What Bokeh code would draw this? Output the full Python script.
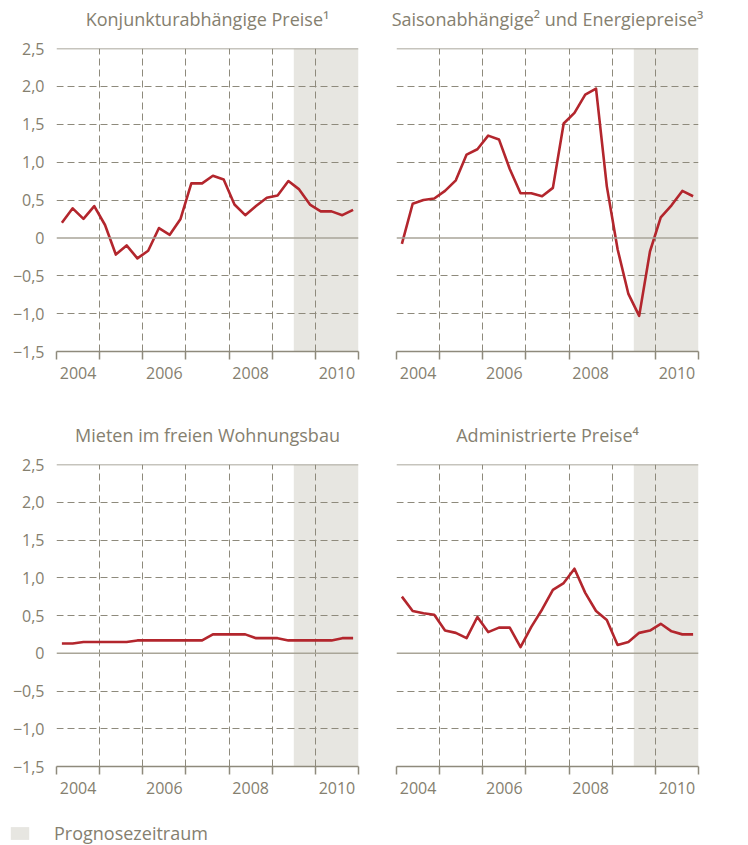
from bokeh.plotting import figure
from bokeh.models import (Range1d, FixedTicker, Span, ColumnDataSource, LabelSet,
                          Legend, LegendItem)
from bokeh.core.properties import value
from bokeh.layouts import column, row
from bokeh.embed import file_html
from bokeh.resources import INLINE

# ---------------- data ----------------
years = [2004, 2005, 2006, 2007, 2008, 2009, 2010]
quarters = [(y, q) for y in years for q in (1, 2, 3, 4)]
x_quarter = [y + (q - 0.5) / 4 for (y, q) in quarters]

year_bounds = [2004, 2005, 2006, 2007, 2008, 2009, 2010, 2011]
grid_years = [2005, 2006, 2007, 2008, 2009, 2010]
label_years = [2004, 2006, 2008, 2010]

y_ticks = [-1.5, -1.0, -0.5, 0, 0.5, 1.0, 1.5, 2.0, 2.5]
y_tick_labels = ["\u22121,5", "\u22121,0", "\u22120,5", "0", "0,5", "1,0", "1,5", "2,0", "2,5"]
y_grid = [-1.0, -0.5, 0.5, 1.0, 1.5, 2.0]

prog_start = 2009.5  # Prognosezeitraum begins

titles = ["Konjunkturabhängige Preise\u00b9",
          "Saisonabhängige\u00b2 und Energiepreise\u00b3",
          "Mieten im freien Wohnungsbau",
          "Administrierte Preise\u2074"]
legend_label = "Prognosezeitraum"

konjunktur = [0.20, 0.39, 0.25, 0.42, 0.17, -0.22, -0.10, -0.27, -0.17, 0.13, 0.04, 0.25,
              0.72, 0.72, 0.82, 0.77, 0.44, 0.30, 0.42, 0.53, 0.56, 0.75, 0.64, 0.44,
              0.35, 0.35, 0.30, 0.37]
saison = [-0.08, 0.45, 0.50, 0.52, 0.62, 0.76, 1.10, 1.17, 1.35, 1.30, 0.91, 0.59,
          0.59, 0.55, 0.66, 1.51, 1.65, 1.89, 1.97, 0.68, -0.15, -0.74, -1.03, -0.18,
          0.27, 0.43, 0.62, 0.55]
mieten = [0.13, 0.13, 0.15, 0.15, 0.15, 0.15, 0.15, 0.17, 0.17, 0.17, 0.17, 0.17,
          0.17, 0.17, 0.25, 0.25, 0.25, 0.25, 0.20, 0.20, 0.20, 0.17, 0.17, 0.17,
          0.17, 0.17, 0.20, 0.20]
admin = [0.75, 0.56, 0.53, 0.51, 0.30, 0.27, 0.20, 0.48, 0.28, 0.34, 0.34, 0.08,
         0.35, 0.58, 0.84, 0.93, 1.12, 0.80, 0.56, 0.44, 0.11, 0.15, 0.27, 0.30,
         0.39, 0.29, 0.25, 0.25]

# ---------------- style / layout ----------------
FONT = "Open Sans"
TEXT = "#85806f"
GRID = "#8e8a7c"
RED = "#b3262d"
SHADE = "#e7e6e1"

PAGE_W = 748
LEFT_B, FRAME_W, GAP_B, RIGHT_B = 56, 302, 19, 50
TOP_B = 10            # space above each frame so the top tick label is not cut
TITLE_H = 38
TITLE_Y = 20          # title text centre, measured from the strip's bottom


def strip(height):
    s = figure(width=PAGE_W, height=height, min_border=0, output_backend="svg",
               toolbar_location=None, x_range=Range1d(0, PAGE_W), y_range=Range1d(0, height),
               x_axis_location=None, y_axis_location=None)
    s.outline_line_color = None
    s.grid.visible = False
    return s


def title_strip(left_title, right_title):
    s = strip(TITLE_H)
    centres = [LEFT_B + FRAME_W / 2, LEFT_B + FRAME_W + 2 * GAP_B + FRAME_W / 2]
    src = ColumnDataSource(dict(x=centres, y=[TITLE_Y, TITLE_Y], t=[left_title, right_title]))
    s.add_layout(LabelSet(x="x", y="y", text="t", source=src,
                          text_align="center", text_baseline="middle",
                          text_font=value(FONT), text_font_size="18px", text_color=TEXT))
    return s


def make_panel(values, side, bottom_border, frame_h):
    left_b = LEFT_B if side == "left" else GAP_B
    right_b = GAP_B if side == "left" else RIGHT_B
    p = figure(frame_width=FRAME_W, frame_height=frame_h,
               x_range=Range1d(year_bounds[0], year_bounds[-1]),
               y_range=Range1d(y_ticks[0], y_ticks[-1]),
               output_backend="svg", toolbar_location=None,
               min_border_left=left_b, min_border_right=right_b,
               min_border_top=TOP_B, min_border_bottom=bottom_border,
               y_axis_location="left" if side == "left" else None)
    p.outline_line_color = None
    p.background_fill_color = "white"
    p.border_fill_color = "white"

    # forecast period shading
    p.quad(left=[prog_start], right=[year_bounds[-1]], bottom=[y_ticks[0]], top=[y_ticks[-1]],
           fill_color=SHADE, line_color=None, level="image")

    # grids
    p.xgrid.ticker = FixedTicker(ticks=grid_years)
    p.xgrid.grid_line_color = GRID
    p.xgrid.grid_line_dash = "7 4"
    p.xgrid.grid_line_width = 1
    p.ygrid.ticker = FixedTicker(ticks=y_grid)
    p.ygrid.grid_line_color = GRID
    p.ygrid.grid_line_dash = "7 4"
    p.ygrid.grid_line_width = 1

    p.add_layout(Span(location=0, dimension="width", line_color="#a9a598", line_width=1.5))
    p.add_layout(Span(location=y_ticks[-1], dimension="width", line_color=GRID, line_width=1.5))

    # x axis
    xa = p.xaxis[0]
    xa.ticker = FixedTicker(ticks=[y + 0.5 for y in label_years], minor_ticks=year_bounds)
    xa.major_label_overrides = {y + 0.5: str(y) for y in label_years}
    xa.major_tick_out = 0
    xa.major_tick_in = 0
    xa.minor_tick_out = 8
    xa.minor_tick_in = 0
    xa.minor_tick_line_color = GRID
    xa.minor_tick_line_width = 1.5
    xa.axis_line_color = GRID
    xa.axis_line_width = 1.5
    xa.major_label_text_font = FONT
    xa.major_label_text_font_size = "16px"
    xa.major_label_text_color = TEXT
    xa.major_label_standoff = 7

    if side == "left":
        ya = p.yaxis[0]
        ya.ticker = FixedTicker(ticks=y_ticks)
        ya.major_label_overrides = dict(zip(y_ticks, y_tick_labels))
        ya.major_tick_out = 0
        ya.major_tick_in = 0
        ya.minor_tick_out = 0
        ya.minor_tick_in = 0
        ya.axis_line_color = None
        ya.major_label_text_font = FONT
        ya.major_label_text_font_size = "16px"
        ya.major_label_text_color = TEXT
        ya.major_label_standoff = 12
    else:
        src = ColumnDataSource(dict(x=[year_bounds[-1]] * len(y_ticks), y=y_ticks, t=y_tick_labels))
        p.add_layout(LabelSet(x="x", y="y", text="t", source=src, x_offset=46,
                              text_align="right", text_baseline="middle",
                              text_font=value(FONT), text_font_size="16px", text_color=TEXT))

    p.line(x_quarter, values, line_color=RED, line_width=2.6, line_join="round")
    return p


t1 = title_strip(titles[0], titles[1])
p1 = make_panel(konjunktur, "left", 65, 303)
p2 = make_panel(saison, "right", 65, 303)
t2 = title_strip(titles[2], titles[3])
p3 = make_panel(mieten, "left", 39, 302)
p4 = make_panel(admin, "right", 39, 302)

# legend strip for the forecast shading
pl = strip(40)
shade_r = pl.quad(left=[prog_start], right=[year_bounds[-1]], bottom=[y_ticks[0]], top=[y_ticks[-1]],
                  fill_color=SHADE, line_color=None)
legend = Legend(items=[LegendItem(label=legend_label, renderers=[shade_r])],
                location=(8, 0), orientation="horizontal",
                border_line_color=None, background_fill_alpha=0,
                padding=0, margin=0, glyph_width=23, glyph_height=16,
                label_standoff=23, label_text_font=FONT, label_text_font_size="18px",
                label_text_color=TEXT, label_height=16)
pl.add_layout(legend, "center")

layout = column(t1, row(p1, p2, spacing=0), t2, row(p3, p4, spacing=0), pl, spacing=0)

open("out.html", "w").write(file_html(layout, INLINE))
